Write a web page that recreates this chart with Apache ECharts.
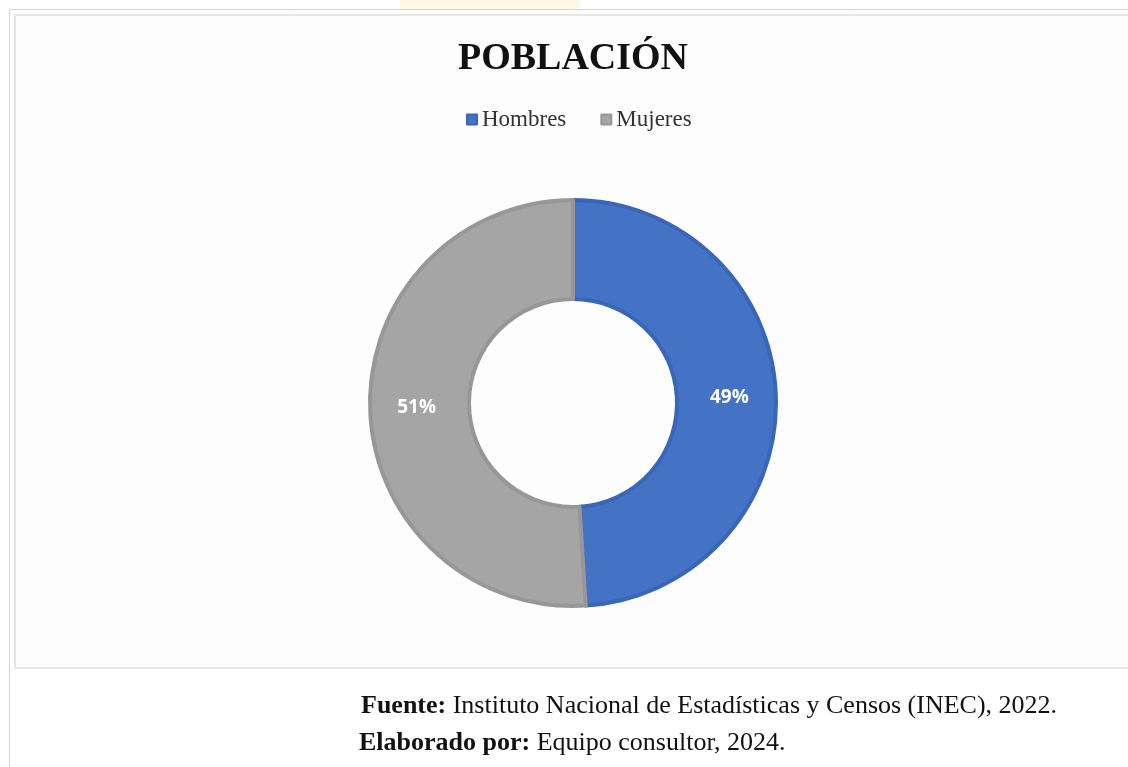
<!DOCTYPE html>
<html><head><meta charset="utf-8">
<script src="https://cdn.jsdelivr.net/npm/echarts@6/dist/echarts.min.js"></script>
<style>html,body{margin:0;padding:0;background:#fff}#c{width:1128px;height:767px}</style>
</head><body><div id="c"></div>
<script>
const categories = ['Hombres', 'Mujeres'];
const values = [49, 51];
const colors = ['#4472C4', '#A5A5A5'];
const borderColors = ['#3A66B8', '#979797'];
const titleText = 'POBLACIÓN';
const sourceLine = 'Instituto Nacional de Estadísticas y Censos (INEC), 2022.';
const authorLine = 'Equipo consultor, 2024.';

const chart = echarts.init(document.getElementById('c'));
chart.setOption({
  backgroundColor: '#ffffff',
  animation: false,
  legend: {
    top: 103, left: 461, itemWidth: 10, itemHeight: 10, itemGap: 34,
    icon: 'rect',
    textStyle: { fontFamily: 'Liberation Serif', fontSize: 23, color: '#333' },
    data: categories
  },
  graphic: [
    { type: 'rect', shape: { x: 400, y: 0, width: 180, height: 9 }, style: { fill: '#FFF8E6' }, z: -10 },
    { type: 'line', shape: { x1: 9, y1: 9.5, x2: 1128, y2: 9.5 }, style: { stroke: '#D4D4D4', lineWidth: 1 }, z: -5 },
    { type: 'line', shape: { x1: 9.5, y1: 9, x2: 9.5, y2: 767 }, style: { stroke: '#D4D4D4', lineWidth: 1 }, z: -5 },
    { type: 'rect', shape: { x: 15, y: 15, width: 1120, height: 653 }, style: { fill: '#FDFDFD', stroke: '#E6E6E6', lineWidth: 2 }, z: -6 },
    { type: 'text', x: 573, y: 78, style: {
        text: titleText, textAlign: 'center', textVerticalAlign: 'bottom',
        font: 'bold 38px "Liberation Serif"', fill: '#111'
    } },
    { type: 'text', left: 361, top: 693, style: {
        text: '{b|Fuente:} ' + sourceLine,
        font: '26px "Liberation Serif"', fill: '#111',
        rich: { b: { fontWeight: 'bold', fontFamily: 'Liberation Serif', fontSize: 26, fill: '#111' } }
    } },
    { type: 'text', left: 359, top: 730, style: {
        text: '{b|Elaborado por:} ' + authorLine,
        font: '26px "Liberation Serif"', fill: '#111',
        rich: { b: { fontWeight: 'bold', fontFamily: 'Liberation Serif', fontSize: 26, fill: '#111' } }
    } }
  ],
  series: [{
    type: 'pie',
    center: [573, 403],
    radius: [104, 203],
    startAngle: 90,
    clockwise: true,
    label: {
      show: true, position: 'inside', formatter: '{c}%',
      fontFamily: 'Open Sans', fontWeight: 'bold', fontSize: 19, color: '#fff'
    },
    labelLine: { show: false },
    data: categories.map((n, i) => ({
      name: n, value: values[i],
      itemStyle: { color: colors[i], borderColor: borderColors[i], borderWidth: 4 }
    }))
  }]
});
</script></body></html>
